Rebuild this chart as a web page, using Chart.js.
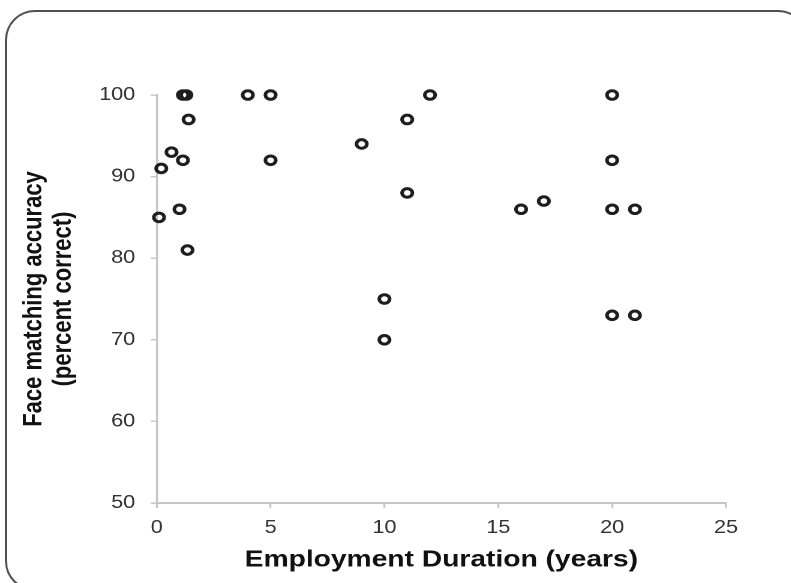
<!DOCTYPE html>
<html>
<head>
<meta charset="utf-8">
<script src="https://cdn.jsdelivr.net/npm/chart.js@4"></script>
<style>
  html, body { margin: 0; padding: 0; background: #fff; width: 791px; height: 583px; overflow: hidden; }
  /* slide frame with rounded corners, runs off the right and bottom edge */
  #frame { position: absolute; left: 5px; top: 10px; width: 803px; height: 581px;
           box-sizing: border-box; border: 2px solid #505050; border-radius: 30px; }
  /* the source picture is stretched sideways, so the chart is too */
  #wrap { position: absolute; left: 0; top: 0; width: 659px; height: 583px;
          transform: scaleX(1.2); transform-origin: 0 0; }
</style>
</head>
<body>
<div id="frame"></div>
<div id="wrap"><canvas id="scatterChart"></canvas></div>
<script>
// employment duration (years) and face matching accuracy (percent correct), one entry per officer
var durationYears = [0.1, 0.2, 0.65, 1.0, 1.15, 1.15, 1.3, 1.4, 1.35, 4, 5, 5, 9, 10, 10, 11, 11, 12, 16, 17, 20, 20, 20, 20, 21, 21];
var accuracyPct   = [85, 91, 93, 86, 92, 100, 100, 97, 81, 100, 100, 92, 94, 75, 70, 97, 88, 100, 86, 87, 100, 92, 86, 73, 86, 73];

var xTicks = [0, 5, 10, 15, 20, 25];
var yTicks = [50, 60, 70, 80, 90, 100];

window.onload = function() {
    var points = durationYears.map(function(d, i) {
        return { x: d, y: accuracyPct[i] };
    });

    var axisGrey = '#c6c6c6';
    var ctx = document.getElementById('scatterChart').getContext('2d');
    var scatterChart = new Chart(ctx, {
        type: 'scatter',
        data: {
            datasets: [{
                label: 'Officers',
                data: points,
                pointRadius: 4.3,
                pointHoverRadius: 4.3,
                borderWidth: 3,
                borderColor: '#1e1e1e',
                backgroundColor: 'rgba(0,0,0,0)',  // open circles
                clip: false
            }]
        },
        options: {
            responsive: true,
            maintainAspectRatio: false,
            animation: false,
            devicePixelRatio: 2,
            layout: { padding: { left: 0, top: 95, right: 54, bottom: 0 } },
            scales: {
                x: {
                    type: 'linear',
                    min: xTicks[0],
                    max: xTicks[xTicks.length - 1],
                    afterBuildTicks: function(scale) {
                        scale.ticks = xTicks.map(function(v) { return { value: v }; });
                    },
                    afterFit: function(scale) { scale.height = 80; },
                    grid: { drawOnChartArea: false, color: axisGrey, lineWidth: 1.6, tickLength: 5 },
                    border: { color: axisGrey, width: 2 },
                    ticks: {
                        padding: 9,
                        color: '#333',
                        font: { family: 'Arial, "Liberation Sans", sans-serif', size: 18 }
                    },
                    title: {
                        display: true,
                        text: 'Employment Duration (years)',
                        color: '#111',
                        padding: { top: 0, bottom: 9 },
                        font: { family: 'Arial, "Liberation Sans", sans-serif', size: 23.5, weight: 'bold' }
                    }
                },
                y: {
                    type: 'linear',
                    min: yTicks[0],
                    max: yTicks[yTicks.length - 1],
                    afterBuildTicks: function(scale) {
                        scale.ticks = yTicks.map(function(v) { return { value: v }; });
                    },
                    afterFit: function(scale) { scale.width = 130.6; },
                    grid: { drawOnChartArea: false, color: axisGrey, lineWidth: 1.4, tickLength: 5 },
                    border: { color: axisGrey, width: 1.7 },
                    ticks: {
                        padding: 13,
                        color: '#333',
                        font: { family: 'Arial, "Liberation Sans", sans-serif', size: 18 }
                    },
                    title: {
                        display: true,
                        text: ['Face matching accuracy', '(percent correct)'],
                        color: '#111',
                        padding: { top: 16, bottom: 0 },
                        font: { family: 'Arial, "Liberation Sans", sans-serif', size: 22, weight: 'bold', lineHeight: 1.12 }
                    }
                }
            },
            plugins: {
                legend: { display: false },
                tooltip: { enabled: false }
            }
        }
    });
}
</script>
</body>
</html>
